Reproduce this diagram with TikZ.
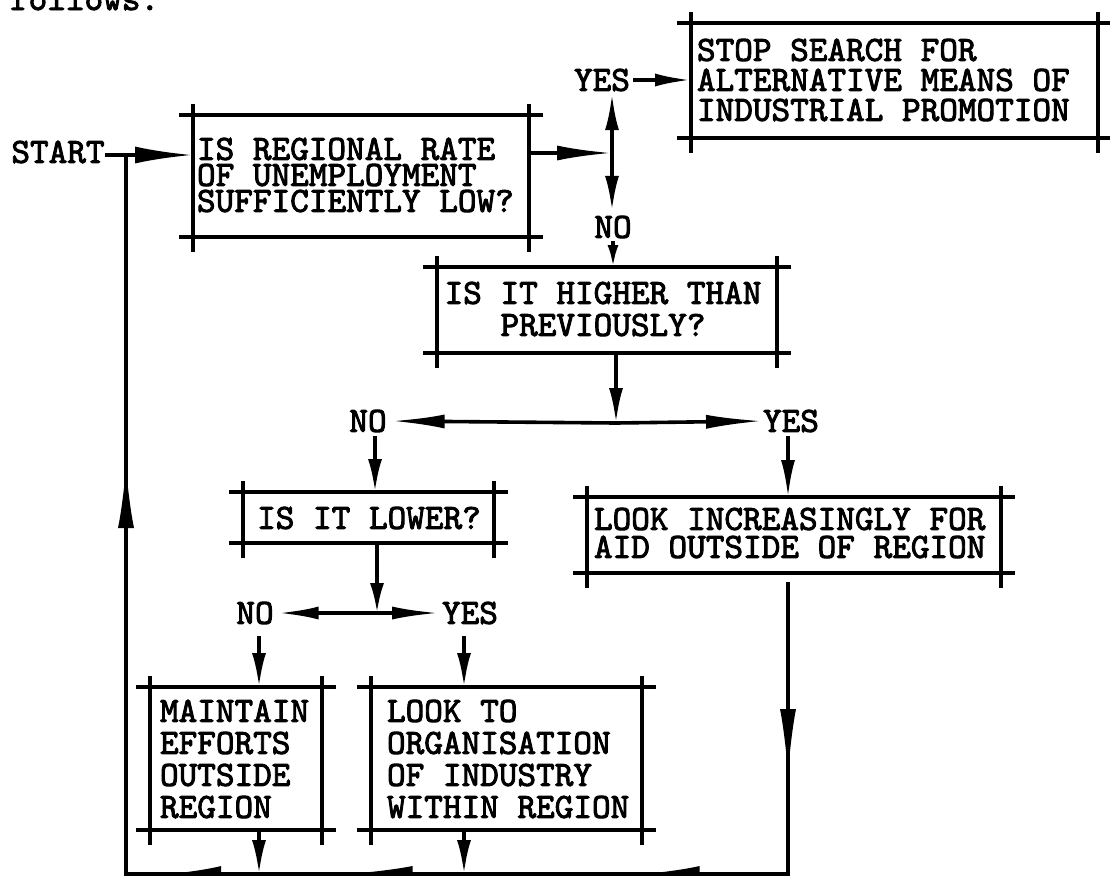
\documentclass[tikz,border=0pt]{standalone}
\usepackage{fontspec}
\newfontfamily\twfont{lmmono10-regular}[Extension=.otf, FakeBold=2.6]
\usetikzlibrary{arrows.meta,decorations.markings}
\tikzset{
  txt/.style={font=\twfont\fontsize{35.5}{#1}\selectfont, inner sep=0pt, outer sep=0pt},
  txt/.default=32,
  boxn/.style={draw=none, inner sep=0pt, outer sep=0pt},
  bline/.style={line width=4.5pt},
  conn/.style={line width=3.6pt},
  ah/.style 2 args={-{Latex[length=#1,width=#2]}},
}
\newcommand\crossbox[1]{%
  \draw[bline] ([xshift=-14pt]#1.north west) -- ([xshift=14pt]#1.north east);
  \draw[bline] ([xshift=-14pt]#1.south west) -- ([xshift=14pt]#1.south east);
  \draw[bline] ([yshift=11pt]#1.north west) -- ([yshift=-15pt]#1.south west);
  \draw[bline] ([yshift=11pt]#1.north east) -- ([yshift=-15pt]#1.south east);}
\begin{document}
\begin{tikzpicture}[x=1pt,y=-1pt]
\useasboundingbox[fill=white] (0,0) rectangle (1110,879);

% boxes
\node[boxn, minimum width=336pt, minimum height=122pt] (b1) at (361,176) {};
\node[boxn, minimum width=407pt, minimum height=115pt] (stop) at (894.5,80.5) {};
\node[boxn, minimum width=340pt, minimum height=86pt] (b2) at (607,310) {};
\node[boxn, minimum width=251pt, minimum height=51pt] (b3) at (368.5,517.5) {};
\node[boxn, minimum width=414pt, minimum height=76pt] (b6) at (794,535) {};
\node[boxn, minimum width=172pt, minimum height=143pt] (b4) at (236,758.5) {};
\node[boxn, minimum width=271pt, minimum height=143pt] (b5) at (506.5,758.5) {};
\crossbox{b1}\crossbox{stop}\crossbox{b2}\crossbox{b3}\crossbox{b6}\crossbox{b4}\crossbox{b5}

% texts
\node[txt, anchor=base west] (fol) at (10,10) {follows.};
\node[txt=26, anchor=west, align=left] (t1) at (197,175) {IS REGIONAL RATE\\OF UNEMPLOYMENT\\SUFFICIENTLY LOW?};
\node[txt=30, anchor=west, align=left] (tstop) at (697,80) {STOP SEARCH FOR\\ALTERNATIVE MEANS OF\\INDUSTRIAL PROMOTION};
\node[txt=32, align=center] (t2) at (603,309) {IS IT HIGHER THAN\\PREVIOUSLY?};
\node[txt] (t3) at (369,518) {IS IT LOWER?};
\node[txt=28, anchor=west, align=left] (t6) at (594,533) {LOOK INCREASINGLY FOR\\AID OUTSIDE OF REGION};
\node[txt=32, anchor=west, align=left] (t4) at (160,759) {MAINTAIN\\EFFORTS\\OUTSIDE\\REGION};
\node[txt=32, anchor=west, align=left] (t5) at (387,759) {LOOK TO\\ORGANISATION\\OF INDUSTRY\\WITHIN REGION};

% labels
\node[txt] (start) at (58,152) {START};
\node[txt] (yes1) at (602,80) {YES};
\node[txt] (no1) at (613,227) {NO};
\node[txt] (no2) at (368,421) {NO};
\node[txt] (yes2) at (791,421) {YES};
\node[txt] (no3) at (255,613) {NO};
\node[txt] (yes3) at (470,613) {YES};

% junctions and guide coordinates
\coordinate (jl) at (126,155);
\coordinate (j1) at (612,153);
\coordinate (j2) at (616,423);
\coordinate (j3) at (377,613);
\coordinate (br) at (788,874);
\coordinate (bl) at (126,874);
\coordinate (x1) at (375,0);
\coordinate (x4) at (259,0);
\coordinate (x5) at (464,0);

% connectors
\draw[conn, ah={58pt}{17pt}] (start.east |- jl) -- (jl -| b1.west);
\draw[conn, ah={55pt}{15pt}] (b1.east |- j1) -- (j1);
\draw[conn, ah={36pt}{14pt}] (j1) -- ([yshift=-3pt]j1 |- yes1.south);
\draw[conn, ah={35pt}{14pt}] (j1) -- ([yshift=5pt]j1 |- no1.north);
\draw[conn, ah={36pt}{13pt}] ([xshift=3pt]yes1.east) -- (yes1.east -| stop.west);
\draw[conn, ah={22pt}{11pt}] ([yshift=-3pt]no1.south) -- (no1.south |- b2.north);
\draw[conn, ah={35pt}{14pt}] (b2.south -| j2) -- (j2);
\draw[conn, ah={53pt}{14pt}] (j2) -- ([xshift=5pt]no2.east);
\draw[conn, ah={57pt}{14pt}] (j2) -- (yes2.west);
\draw[conn, ah={33pt}{14pt}] ([yshift=-4pt]no2.south -| x1) -- (x1 |- b3.north);
\draw[conn, ah={37pt}{14pt}] ([yshift=-4pt]yes2.south -| br) -- (br |- b6.north);
\draw[conn, ah={30pt}{14pt}] (b3.south -| j3) -- (j3);
\draw[conn, ah={40pt}{13pt}] (j3) -- ([xshift=5pt]no3.east);
\draw[conn, ah={47pt}{13pt}] (j3) -- ([xshift=-3pt]yes3.west);
\draw[conn, ah={34pt}{14pt}] ([yshift=-12pt]no3.south -| x4) -- (x4 |- b4.north);
\draw[conn, ah={34pt}{14pt}] ([yshift=-12pt]yes3.south -| x5) -- (x5 |- b5.north);
\draw[conn, ah={34pt}{14pt}] (b4.south -| x4) -- (x4 |- bl);
\draw[conn, ah={34pt}{14pt}] (b5.south -| x5) -- (x5 |- bl);
\draw[conn, line join=miter, postaction={decorate}, decoration={markings,
  mark=at position 194pt with {\arrow{Latex[length=67pt,width=16pt]}},
  mark=at position 458pt with {\arrow{Latex[harpoon,swap,length=58pt,width=16pt]}},
  mark=at position 757pt with {\arrow{Latex[harpoon,swap,length=67pt,width=16pt]}},
  mark=at position 931pt with {\arrow{Latex[harpoon,swap,length=54pt,width=16pt]}},
  mark=at position 1364pt with {\arrow{Latex[length=64pt,width=16pt]}}}]
  ([yshift=-9pt]br |- b6.south) -- (br) -- (bl) -- (jl);
\end{tikzpicture}
\end{document}
